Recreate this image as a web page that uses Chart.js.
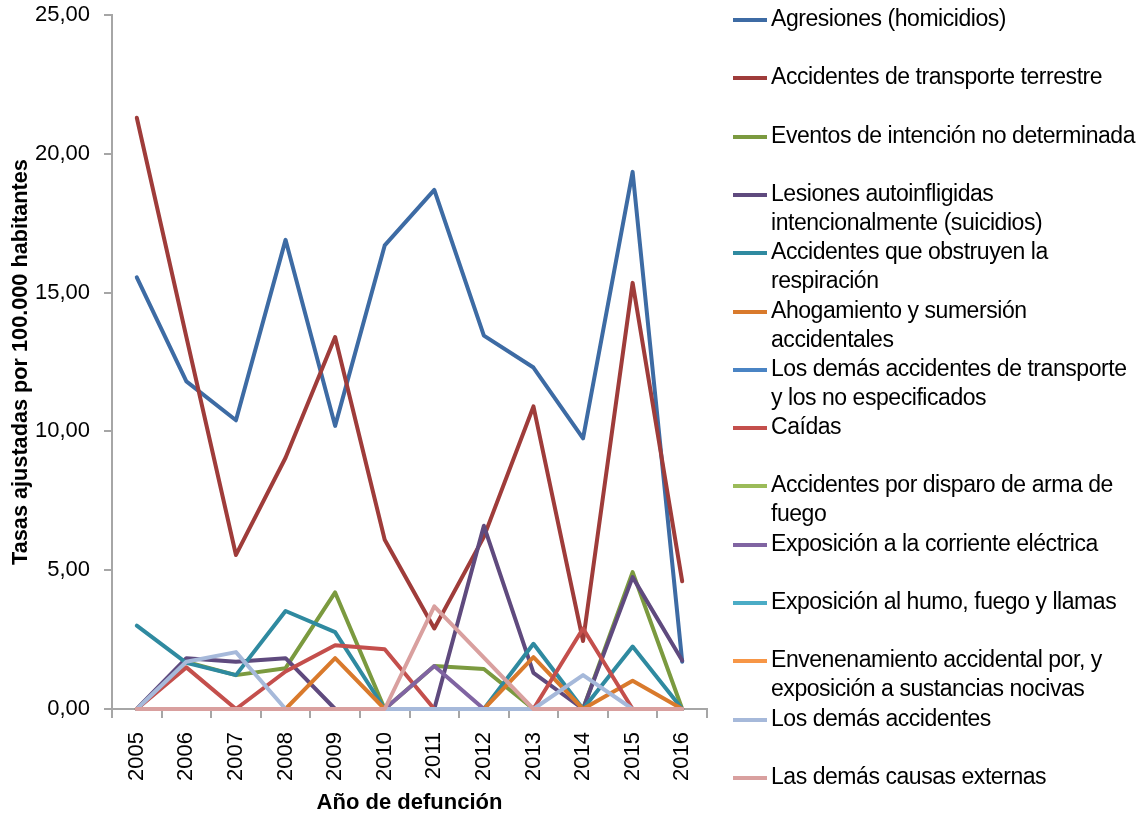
<!DOCTYPE html>
<html lang="es">
<head>
<meta charset="utf-8">
<script src="https://cdn.jsdelivr.net/npm/chart.js@4"></script>
<style>
  html, body { margin: 0; padding: 0; background: #fff; }
  #wrap { position: relative; width: 1142px; height: 818px; }
  #grafico { position: absolute; left: 0; top: 0; }
  #leyenda { position: absolute; left: 733px; top: 0; width: 409px; font-family: "Liberation Sans", Arial, sans-serif; font-size: 23px; color: #000; }
  .item { position: absolute; left: 0; width: 405px; }
  .muestra { position: absolute; left: 0; top: 13px; width: 34px; height: 4px; }
  .texto { position: absolute; left: 38px; top: -1px; width: 368px; line-height: 29px; letter-spacing: -0.45px; }
</style>
</head>
<body>
<div id="wrap">
  <canvas id="grafico" width="1142" height="818"></canvas>
  <div id="leyenda"></div>
</div>
<script>
// Años (eje X)
const anios = ["2005", "2006", "2007", "2008", "2009", "2010", "2011", "2012", "2013", "2014", "2015", "2016"];

// Tasas ajustadas por 100.000 habitantes, una serie por causa
const agresiones = [15.55, 11.8, 10.4, 16.9, 10.2, 16.7, 18.7, 13.45, 12.3, 9.75, 19.35, 1.7];
const transporteTerrestre = [21.3, 13.4, 5.55, 9.05, 13.4, 6.1, 2.9, 6.2, 10.9, 2.45, 15.35, 4.6];
const intencionNoDeterminada = [0, 1.7, 1.22, 1.47, 4.2, 0, 1.55, 1.44, 0, 0, 4.93, 0];
const suicidios = [0, 1.83, 1.7, 1.83, 0, 0, 0, 6.6, 1.3, 0, 4.75, 1.75];
const obstruyenRespiracion = [3.0, 1.66, 1.22, 3.53, 2.77, 0, 0, 0, 2.35, 0, 2.25, 0];
const ahogamiento = [0, 0, 0, 0, 1.83, 0, 0, 0, 1.87, 0, 1.02, 0];
const demasTransporte = [0, 0, 0, 0, 0, 0, 0, 0, 0, 0, 0, 0];
const caidas = [0, 1.5, 0, 1.35, 2.3, 2.15, 0, 0, 0, 2.9, 0, 0];
const armaDeFuego = [0, 0, 0, 0, 0, 0, 0, 0, 0, 0, 0, 0];
const corrienteElectrica = [0, 0, 0, 0, 0, 0, 1.55, 0, 0, 0, 0, 0];
const humoFuego = [0, 0, 0, 0, 0, 0, 0, 0, 0, 0, 0, 0];
const envenenamiento = [0, 0, 0, 0, 0, 0, 0, 0, 0, 0, 0, 0];
const demasAccidentes = [0, 1.7, 2.05, 0, 0, 0, 0, 0, 0, 1.22, 0, 0];
const demasCausas = [0, 0, 0, 0, 0, 0, 3.7, 1.85, 0, 0, 0, 0];

// Marcas del eje Y
const ticksY = [0, 5, 10, 15, 20, 25];

const series = [
  { label: "Agresiones (homicidios)", data: agresiones, color: "#3D6BA4" },
  { label: "Accidentes de transporte terrestre", data: transporteTerrestre, color: "#9F3C3A" },
  { label: "Eventos de intención no determinada", data: intencionNoDeterminada, color: "#7B9A3F" },
  { label: "Lesiones autoinfligidas intencionalmente (suicidios)", data: suicidios, color: "#5F4A7E" },
  { label: "Accidentes que obstruyen la respiración", data: obstruyenRespiracion, color: "#2F8AA0" },
  { label: "Ahogamiento y sumersión accidentales", data: ahogamiento, color: "#D97A2C" },
  { label: "Los demás accidentes de transporte y los no especificados", data: demasTransporte, color: "#4A84C4" },
  { label: "Caídas", data: caidas, color: "#C44F4C" },
  { label: "Accidentes por disparo de arma de fuego", data: armaDeFuego, color: "#9BBB59" },
  { label: "Exposición a la corriente eléctrica", data: corrienteElectrica, color: "#8064A2" },
  { label: "Exposición al humo, fuego y llamas", data: humoFuego, color: "#4BACC6" },
  { label: "Envenenamiento accidental por, y exposición a sustancias nocivas", data: envenenamiento, color: "#F79646" },
  { label: "Los demás accidentes", data: demasAccidentes, color: "#A6B9DA" },
  { label: "Las demás causas externas", data: demasCausas, color: "#D9A09F" },
];

const fuente = "'Liberation Sans', Arial, sans-serif";
const gris = "#a6a6a6";

const datasets = series.map((s, i) => ({
  label: s.label,
  data: s.data,
  borderColor: s.color,
  backgroundColor: s.color,
  borderWidth: 4,
  borderJoinStyle: "round",
  borderCapStyle: "round",
  pointRadius: 0,
  tension: 0,
  clip: 6,
  order: series.length - i, // la última serie queda encima
}));

new Chart(document.getElementById("grafico").getContext("2d"), {
  type: "line",
  data: { labels: anios, datasets: datasets },
  options: {
    responsive: false,
    animation: false,
    layout: { padding: { left: 0, top: 15, right: 435, bottom: 0 } },
    plugins: { legend: { display: false }, tooltip: { enabled: false } },
    scales: {
      x: {
        offset: true,
        grid: { offset: true, drawOnChartArea: false, drawTicks: true, tickLength: 9, color: gris, lineWidth: 2 },
        border: { color: gris, width: 2 },
        ticks: { minRotation: 90, maxRotation: 90, padding: 14, color: "#000", font: { family: fuente, size: 22 } },
        title: { display: true, text: "Año de defunción", color: "#000", font: { family: fuente, size: 22, weight: "bold" }, padding: { top: 0, bottom: 2 } },
        afterFit: (scale) => { scale.height = 109; },
      },
      y: {
        min: 0,
        max: 25,
        afterBuildTicks: (scale) => { scale.ticks = ticksY.map((v) => ({ value: v })); },
        grid: { drawOnChartArea: false, drawTicks: true, tickLength: 8, color: gris, lineWidth: 2 },
        border: { color: gris, width: 2 },
        ticks: {
          padding: 14,
          color: "#000",
          font: { family: fuente, size: 22 },
          callback: (v) => v.toFixed(2).replace(".", ","),
        },
        title: { display: true, text: "Tasas ajustadas por 100.000 habitantes", color: "#000", font: { family: fuente, size: 21.7, weight: "bold" }, padding: { top: 8, bottom: 0 } },
        afterFit: (scale) => {
          scale.width = 112;
          scale.paddingTop = 0;
          scale.paddingBottom = 0;
        },
      },
    },
  },
});

// Leyenda a la derecha, una entrada por serie
const leyenda = document.getElementById("leyenda");
series.forEach((s, i) => {
  const item = document.createElement("div");
  item.className = "item";
  item.style.top = (5 + i * 58.3) + "px";
  const muestra = document.createElement("div");
  muestra.className = "muestra";
  muestra.style.background = s.color;
  const texto = document.createElement("div");
  texto.className = "texto";
  texto.textContent = s.label;
  item.appendChild(muestra);
  item.appendChild(texto);
  leyenda.appendChild(item);
});
</script>
</body>
</html>
